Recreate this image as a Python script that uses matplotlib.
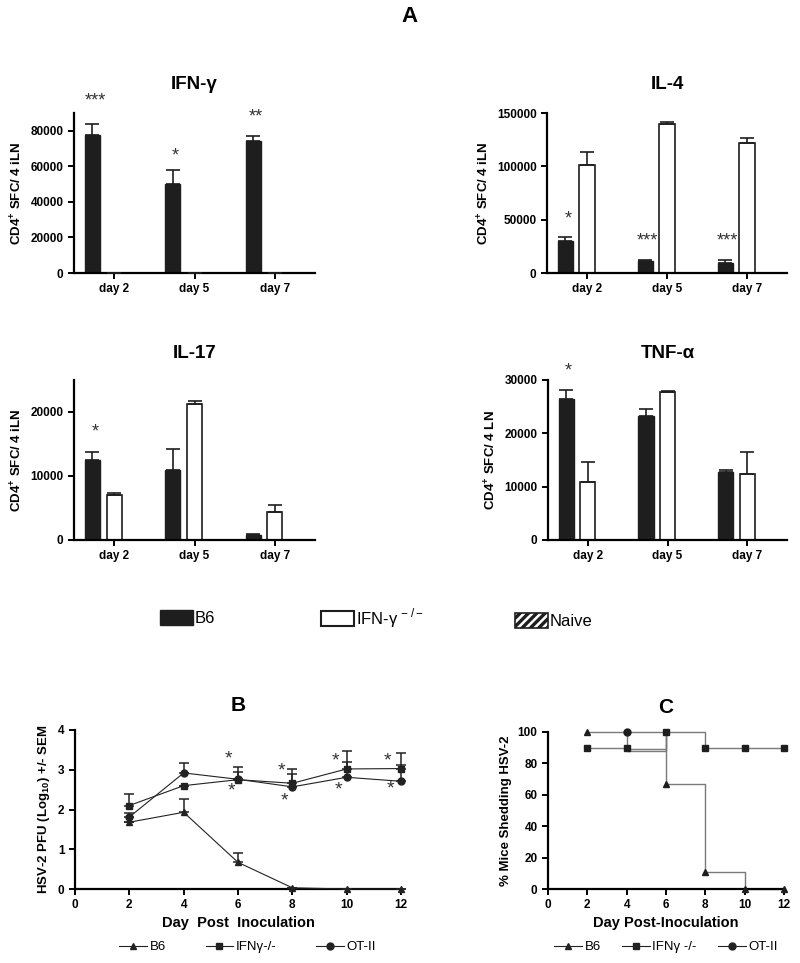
import numpy as np
import matplotlib
matplotlib.use('Agg')
import matplotlib.pyplot as plt
from matplotlib.patches import Patch
from matplotlib.lines import Line2D

plt.rcParams['font.family'] = ['Liberation Sans', 'DejaVu Sans']
plt.rcParams['mathtext.fontset'] = 'custom'
plt.rcParams['mathtext.rm'] = 'Liberation Sans'
plt.rcParams['mathtext.bf'] = 'Liberation Sans:bold'
plt.rcParams['hatch.linewidth'] = 2.4

# ─────────────────────────────────────────────────────────────
# DATA  (panel A: ELISPOT bars)
# ─────────────────────────────────────────────────────────────
DAYS = ['day 2', 'day 5', 'day 7']

IFNG_B6 = [77500, 50000, 74500]
IFNG_B6_ERR = [6500, 8000, 2500]
IFNG_KO = [0, 0, 0]
IFNG_KO_ERR = [0, 0, 0]
IFNG_NAIVE = [0, 0, 0]
IFNG_STARS = ['***', '*', '**']
IFNG_STAR_Y = [96500, 66000, 88000]

IL4_B6 = [30000, 11000, 9000]
IL4_B6_ERR = [4000, 1500, 3000]
IL4_KO = [101000, 140000, 122000]
IL4_KO_ERR = [12000, 1500, 5000]
IL4_NAIVE = [0, 0, 0]
IL4_STARS = ['*', '***', '***']
IL4_STAR_Y = [51000, 30000, 30000]

IL17_B6 = [12500, 11000, 800]
IL17_B6_ERR = [1300, 3200, 100]
IL17_KO = [7000, 21200, 4400]
IL17_KO_ERR = [300, 500, 1000]
IL17_NAIVE = [0, 0, 0]
IL17_STARS = ['*', '', '']
IL17_STAR_Y = [16800, 0, 0]

TNF_B6 = [26500, 23300, 12700]
TNF_B6_ERR = [1700, 1300, 500]
TNF_KO = [10800, 27800, 12300]
TNF_KO_ERR = [3900, 100, 4200]
TNF_NAIVE = [150, 0, 0]
TNF_STARS = ['*', '', '']
TNF_STAR_Y = [31600, 0, 0]

# panel B: viral titres
DAY_B = [2, 4, 6, 8, 10, 12]
B6_TITER = [1.68, 1.93, 0.67, 0.03, 0.0, 0.0]
B6_TITER_ERR = [0.0, 0.33, 0.24, 0.0, 0.0, 0.0]
KO_TITER = [2.10, 2.60, 2.75, 2.66, 3.02, 3.03]
KO_TITER_ERR = [0.30, 0.0, 0.33, 0.35, 0.44, 0.38]
OT2_TITER = [1.81, 2.92, 2.76, 2.57, 2.81, 2.71]
OT2_TITER_ERR = [0.10, 0.25, 0.18, 0.32, 0.38, 0.42]
STAR_B_X = [5.65, 5.75, 7.6, 7.7, 9.6, 9.7, 11.5, 11.6]
STAR_B_Y = [3.27, 2.47, 2.97, 2.22, 3.22, 2.49, 3.22, 2.52]

# panel C: % shedding (step curves)
B6_C_X = [2, 6, 6, 8, 8, 10, 10, 12]
B6_C_Y = [100, 100, 66.7, 66.7, 11.1, 11.1, 0, 0]
B6_C_MARK = [0, 2, 4, 6, 7]
KO_C_X = [2, 4, 4, 6, 6, 8, 8, 10, 12]
KO_C_Y = [90, 90, 89, 89, 100, 100, 90, 90, 90]
KO_C_MARK = [0, 1, 4, 6, 7, 8]
OT2_C_X = [4, 4, 6, 6]
OT2_C_Y = [100, 88, 88, 100]
OT2_C_MARK = [0]

W, H = 800, 963


def px_rect(left, right, top, bottom):
    return [left / W, 1 - bottom / H, (right - left) / W, (bottom - top) / H]


def style_axes(ax):
    for s in ['top', 'right']:
        ax.spines[s].set_visible(False)
    for s in ['left', 'bottom']:
        ax.spines[s].set_linewidth(1.6)
    ax.tick_params(width=1.4, length=4, labelsize=8.5)
    for lab in ax.get_xticklabels() + ax.get_yticklabels():
        lab.set_fontweight('bold')


def bar_panel(ax, title, b6, b6_err, ko, ko_err, naive, stars, star_y,
              ymax, yticks, ylabel, title_pad):
    x = np.arange(len(DAYS))
    off, bw = 0.27, 0.19
    zeros = np.zeros(len(DAYS))
    ax.bar(x - off, b6, bw, color='#1e1e1e', edgecolor='#1e1e1e', lw=1.0, zorder=2)
    ax.errorbar(x - off, b6, yerr=[zeros, b6_err], fmt='none', ecolor='#1e1e1e',
                elinewidth=1.2, capsize=5, capthick=1.2, zorder=3)
    ax.bar(x, ko, bw, color='white', edgecolor='#1e1e1e', lw=1.2, zorder=2)
    ax.errorbar(x, ko, yerr=[zeros, ko_err], fmt='none', ecolor='#1e1e1e',
                elinewidth=1.2, capsize=5, capthick=1.2, zorder=3)
    ax.bar(x + off, naive, bw, color='#bbbbbb', edgecolor='#888888', lw=0.5, zorder=2)
    for xi, s, yv in zip(x - off, stars, star_y):
        if s:
            ax.text(xi + 0.03, yv, s, ha='center', va='center', fontsize=13,
                    color='#333333', clip_on=False)
    ax.set_xlim(-0.5, 2.5)
    ax.set_ylim(0, ymax)
    ax.set_yticks(yticks)
    ax.set_xticks(x)
    ax.set_xticklabels(DAYS)
    ax.set_ylabel(ylabel, fontsize=9.5, fontweight='bold')
    ax.set_title(title, fontsize=13.5, fontweight='bold', pad=title_pad)
    style_axes(ax)


fig = plt.figure(figsize=(8.0, 9.63), dpi=100)
fig.text(0.512, 0.983, 'A', ha='center', va='center', fontsize=16, fontweight='bold')

YL_ILN = r'CD4$^{\mathbf{+}}$ SFC/ 4 iLN'
YL_LN = r'CD4$^{\mathbf{+}}$ SFC/ 4 LN'

ax1 = fig.add_axes(px_rect(74, 315, 113, 273))
bar_panel(ax1, 'IFN-γ', IFNG_B6, IFNG_B6_ERR, IFNG_KO, IFNG_KO_ERR, IFNG_NAIVE,
          IFNG_STARS, IFNG_STAR_Y, 90000, [0, 20000, 40000, 60000, 80000], YL_ILN, 17)

ax2 = fig.add_axes(px_rect(547, 787, 113, 273))
bar_panel(ax2, 'IL-4', IL4_B6, IL4_B6_ERR, IL4_KO, IL4_KO_ERR, IL4_NAIVE,
          IL4_STARS, IL4_STAR_Y, 150000, [0, 50000, 100000, 150000], YL_ILN, 17)

ax3 = fig.add_axes(px_rect(74, 315, 380, 540))
bar_panel(ax3, 'IL-17', IL17_B6, IL17_B6_ERR, IL17_KO, IL17_KO_ERR, IL17_NAIVE,
          IL17_STARS, IL17_STAR_Y, 25000, [0, 10000, 20000], YL_ILN, 16)

ax4 = fig.add_axes(px_rect(548, 787, 380, 540))
bar_panel(ax4, 'TNF-α', TNF_B6, TNF_B6_ERR, TNF_KO, TNF_KO_ERR, TNF_NAIVE,
          TNF_STARS, TNF_STAR_Y, 30000, [0, 10000, 20000, 30000], YL_LN, 16)

# legend row for panel A
leg_items = [
    (Patch(facecolor='#1e1e1e', edgecolor='#1e1e1e'), 'B6', 160, 618),
    (Patch(facecolor='white', edgecolor='#1e1e1e', lw=1.5), r'IFN-γ$^{\,-/-}$', 321, 618),
    (Patch(facecolor='white', edgecolor='#1e1e1e', hatch='////', lw=1.2), 'Naive', 515, 621),
]
for h, lab, lx, ly in leg_items:
    fig.legend([h], [lab], loc='center left', bbox_to_anchor=(lx / W, 1 - ly / H),
               frameon=False, fontsize=12, handlelength=1.95, handleheight=1.0,
               handletextpad=0.15, borderpad=0, borderaxespad=0)

# panel B
axb = fig.add_axes(px_rect(75, 401, 730, 889))
zb = np.zeros(len(DAY_B))
for yv, err, mk, lab in [(B6_TITER, B6_TITER_ERR, '^', 'B6'),
                         (KO_TITER, KO_TITER_ERR, 's', 'IFNγ-/-'),
                         (OT2_TITER, OT2_TITER_ERR, 'o', 'OT-II')]:
    axb.errorbar(DAY_B, yv, yerr=[zb, err], fmt='-' + mk, color='#222222', lw=0.8,
                 ms=5, elinewidth=1.1, capsize=3.5, capthick=1.1, label=lab,
                 clip_on=False, zorder=3)
for sx, sy in zip(STAR_B_X, STAR_B_Y):
    axb.text(sx, sy, '*', ha='center', va='center', fontsize=14, color='#333333')
axb.set_xlim(0, 12)
axb.set_ylim(0, 4)
axb.set_xticks(range(0, 13, 2))
axb.set_yticks(range(0, 5))
axb.set_xlabel('Day  Post  Inoculation', fontsize=10.5, fontweight='bold', labelpad=3)
axb.set_ylabel(r'HSV-2 PFU (Log$_{\mathbf{10}}$) +/- SEM', fontsize=9.5,
               fontweight='bold', labelpad=4)
axb.set_title('B', fontsize=15, fontweight='bold', pad=14)
style_axes(axb)
hb = [Line2D([], [], color='#222222', lw=0.8, marker=m, ms=5) for m in ['^', 's', 'o']]
axb.legend(hb, ['B6', 'IFNγ-/-', 'OT-II'], loc='center', bbox_to_anchor=(0.53, -0.365),
           ncol=3, frameon=False, fontsize=9.5, handlelength=2.1, columnspacing=3.0,
           handletextpad=0.2)

# panel C
axc = fig.add_axes(px_rect(548, 784, 732, 889))
for xs, ys, mk, mev in [(B6_C_X, B6_C_Y, '^', B6_C_MARK),
                        (KO_C_X, KO_C_Y, 's', KO_C_MARK),
                        (OT2_C_X, OT2_C_Y, 'o', OT2_C_MARK)]:
    axc.plot(xs, ys, '-', color='#7a7a7a', lw=1.0, zorder=2, clip_on=False)
    axc.plot(np.array(xs)[mev], np.array(ys)[mev], mk, color='#1e1e1e', ms=5,
             zorder=3, clip_on=False, ls='none')
axc.set_xlim(0, 12)
axc.set_ylim(0, 100)
axc.set_xticks(range(0, 13, 2))
axc.set_yticks(range(0, 101, 20))
axc.set_xlabel('Day Post-Inoculation', fontsize=10.5, fontweight='bold', labelpad=3)
axc.set_ylabel('% Mice Shedding HSV-2', fontsize=9.5, fontweight='bold', labelpad=4)
axc.set_title('C', fontsize=15, fontweight='bold', pad=14)
style_axes(axc)
hc = [Line2D([], [], color='#222222', lw=0.8, marker=m, ms=5) for m in ['^', 's', 'o']]
axc.legend(hc, ['B6', 'IFNγ -/-', 'OT-II'], loc='center', bbox_to_anchor=(0.5, -0.37),
           ncol=3, frameon=False, fontsize=9.5, handlelength=2.1, columnspacing=1.6,
           handletextpad=0.2)

fig.savefig('out.png', dpi=100)
